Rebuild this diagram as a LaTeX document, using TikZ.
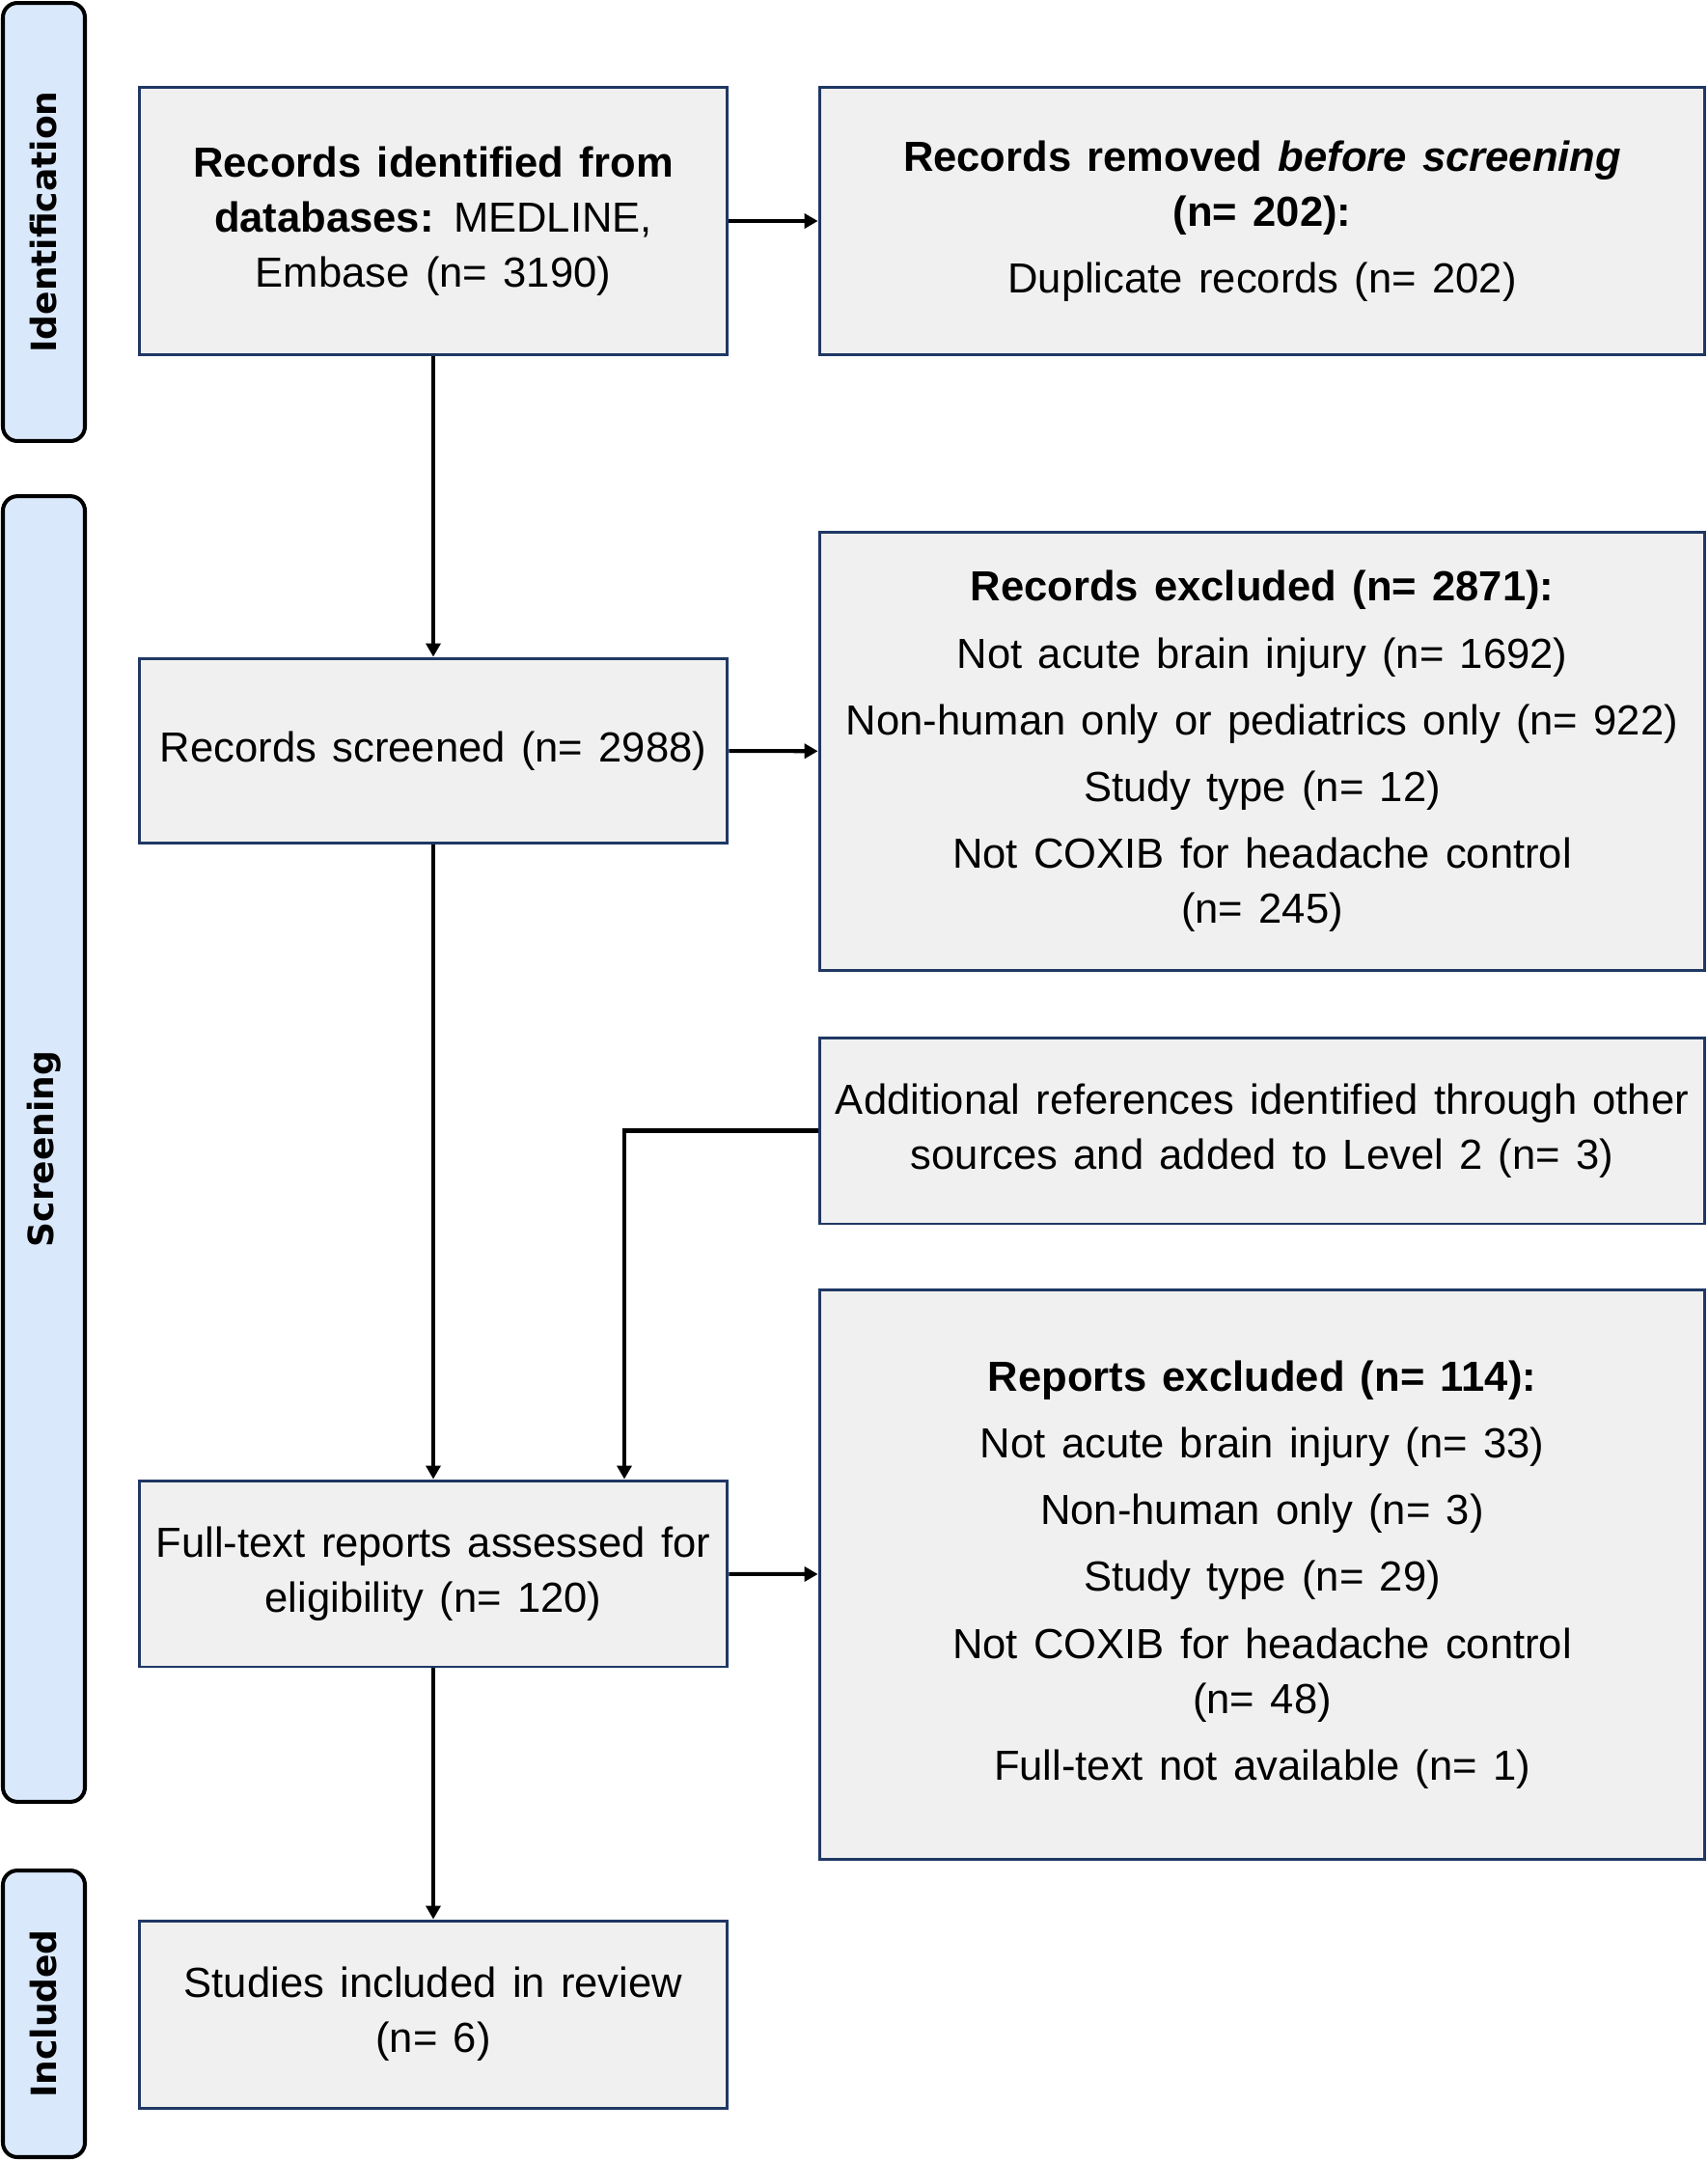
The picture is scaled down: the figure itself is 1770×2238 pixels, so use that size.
\documentclass[tikz,border=0pt]{standalone}
\usepackage{fontspec}
\setmainfont{Liberation Sans}[WordSpace=1.35]
\newfontfamily\sidefont{DejaVu Sans}
\usetikzlibrary{arrows.meta, calc}
\definecolor{boxline}{HTML}{1F3864}
\definecolor{boxfill}{HTML}{F0F0F0}
\definecolor{phaseblue}{HTML}{DAE8FC}

\begin{document}
\begin{tikzpicture}
[x=0.02cm, y=-0.02cm,
 box/.style={rectangle, draw=boxline, fill=boxfill, line width=1.7pt, align=center, inner sep=0pt, font=\fontsize{24.8}{32.4}\selectfont},
 lbox/.style={box, minimum width=12.2cm},
 rbox/.style={box, minimum width=18.36cm},
 phase/.style={rectangle, rounded corners=0.3cm, draw=black, fill=phaseblue, line width=2.3pt, rotate=90, minimum height=1.7cm, inner sep=0pt, font=\sidefont\bfseries\fontsize{20.5}{24}\selectfont},
 ->/.style={line width=2.3pt, arrows={-Triangle[length=0.28cm, width=0.3cm]}}]
\useasboundingbox (0,0) rectangle (1770,2238);
\node[phase, minimum width=9.08cm] (ident) at (45.5,230) {Identification};
\node[phase, minimum width=27.06cm] (screen) at (45.5,1190.5) {Screening};
\node[phase, minimum width=5.94cm] (incl) at (45.5,2086.5) {Included};
\node[lbox, minimum height=5.56cm] (rec) at (449,229) {\textbf{Records identified from}\\ \textbf{databases:} MEDLINE,\\ Embase (n= 3190)};
\node[rbox, minimum height=5.56cm] (removed) at (1308,229) {\textbf{Records removed \textit{before screening}}\\ \textbf{(n= 202):}\\[7pt] Duplicate records (n= 202)};
\node[lbox, minimum height=3.84cm] (screened) at (449,778) {Records screened (n= 2988)};
\node[rbox, minimum height=9.1cm] (excl) at (1308,778.5) {\textbf{Records excluded (n= 2871):}\\[7pt] Not acute brain injury (n= 1692)\\[7pt] Non-human only or pediatrics only (n= 922)\\[7pt] Study type (n= 12)\\[7pt] Not COXIB for headache control\\ (n= 245)};
\node[rbox, minimum height=3.86cm] (addl) at (1308,1171.5) {Additional references identified through other\\ sources and added to Level 2 (n= 3)};
\node[lbox, minimum height=3.86cm] (fulltext) at (449,1630.5) {Full-text reports assessed for\\ eligibility (n= 120)};
\node[rbox, minimum height=11.82cm] (reports) at (1308,1631.5) {\textbf{Reports excluded (n= 114):}\\[7pt] Not acute brain injury (n= 33)\\[7pt] Non-human only (n= 3)\\[7pt] Study type (n= 29)\\[7pt] Not COXIB for headache control\\ (n= 48)\\[7pt] Full-text not available (n= 1)};
\node[lbox, minimum height=3.88cm] (studies) at (449,2087) {Studies included in review\\ (n= 6)};
\draw[->] (rec) -- (removed);
\draw[->] (rec) -- (screened);
\draw[->] (screened) -- (excl);
\draw[->] (screened) -- (fulltext);
\draw[->] (addl.west) -| ($(fulltext.north)+(198,0)$);
\draw[->] (fulltext) -- (reports);
\draw[->] (fulltext) -- (studies);
\end{tikzpicture}
\end{document}
